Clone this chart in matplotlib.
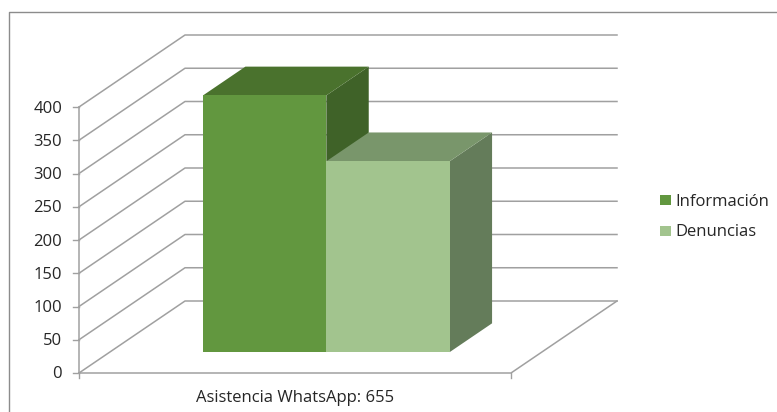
import matplotlib
matplotlib.use("Agg")
import matplotlib.pyplot as plt
from matplotlib.patches import Polygon, Rectangle

categories = ['Asistencia WhatsApp: 655']
series_names = ['Información', 'Denuncias']
series_values = [386, 287]
y_ticks = [0, 50, 100, 150, 200, 250, 300, 350, 400]

# colours: front, top, side
front_colors = ['#62973f', '#a2c48e']
top_colors = ['#4a722d', '#79966b']
side_colors = ['#3f6228', '#647c5a']
grid_color = '#a0a0a0'

W, H = 777, 412
# chart box in pixels, the 3d look is just an oblique projection
X0, Y0 = 79, 373
PLOT_W = 432
PX_PER_UNIT = 266 / 400
DX, DY = 106, -72


def project(x, v, d=0.0):
    """x in 0..1 across the floor, v = axis value, d in 0..1 front to back"""
    return (X0 + x * PLOT_W + d * DX, Y0 - v * PX_PER_UNIT + d * DY)


plt.rcParams['font.family'] = ['Open Sans', 'DejaVu Sans']
fig = plt.figure(figsize=(W / 100, H / 100), dpi=100)
ax = fig.add_axes([0, 0, 1, 1])
ax.set_xlim(0, W)
ax.set_ylim(H, 0)
ax.axis('off')

# outer frame, open on the right and bottom
ax.plot([8.5, 8.5, W], [H, 11.5, 11.5], color='#8c8c8c', lw=1)

# gridlines: wall + side going forward
for t in y_ticks:
    xs, ys = zip(project(0, t), project(0, t, 1), project(1, t, 1))
    ax.plot(xs, ys, color=grid_color, lw=1.1, zorder=1)
    tx, ty = project(0, t)
    ax.plot([tx - 6, tx], [ty, ty], color=grid_color, lw=1, zorder=1)
    ax.text(tx - 17, ty + 1.5, str(t), ha='right', va='center', fontsize=12, color='#262626')

# floor + axis
xs, ys = zip(project(0, 0), project(1, 0), project(1, 0, 1))
ax.plot(xs, ys, color=grid_color, lw=1.1, zorder=1)
xs, ys = zip(project(0, 0), project(0, y_ticks[-1]))
ax.plot(xs, ys, color=grid_color, lw=1.1, zorder=1)
for x in [0, 1]:
    tx, ty = project(x, 0)
    ax.plot([tx, tx], [ty, ty + 5], color=grid_color, lw=1, zorder=1)

# bars, second one sits over the side of the first
bar_w = 0.2855
depth0, depth1 = 0.29, 0.69
left_edge = (203 - X0 - depth0 * DX) / PLOT_W
for i in [0, 1]:
    v = series_values[i]
    x0 = left_edge + i * bar_w
    x1 = x0 + bar_w
    front = [project(x0, 0, depth0), project(x1, 0, depth0), project(x1, v, depth0), project(x0, v, depth0)]
    top = [project(x0, v, depth0), project(x1, v, depth0), project(x1, v, depth1), project(x0, v, depth1)]
    side = [project(x1, 0, depth0), project(x1, 0, depth1), project(x1, v, depth1), project(x1, v, depth0)]
    ax.add_patch(Polygon(side, closed=True, fc=side_colors[i], ec='none', zorder=3 + i))
    ax.add_patch(Polygon(top, closed=True, fc=top_colors[i], ec='none', zorder=3 + i))
    ax.add_patch(Polygon(front, closed=True, fc=front_colors[i], ec='none', zorder=3 + i))

# category label
ax.text(295, 398, categories[0], ha='center', va='center', fontsize=12, color='#262626')

# legend
for i, name in enumerate(series_names):
    ly = 200 + i * 30.5
    ax.add_patch(Rectangle((659.5, ly - 5), 11.5, 10, fc=front_colors[i], ec='none'))
    ax.text(675, ly + 1.5, name, ha='left', va='center', fontsize=12, color='#262626')

fig.savefig('out.png', dpi=100)
